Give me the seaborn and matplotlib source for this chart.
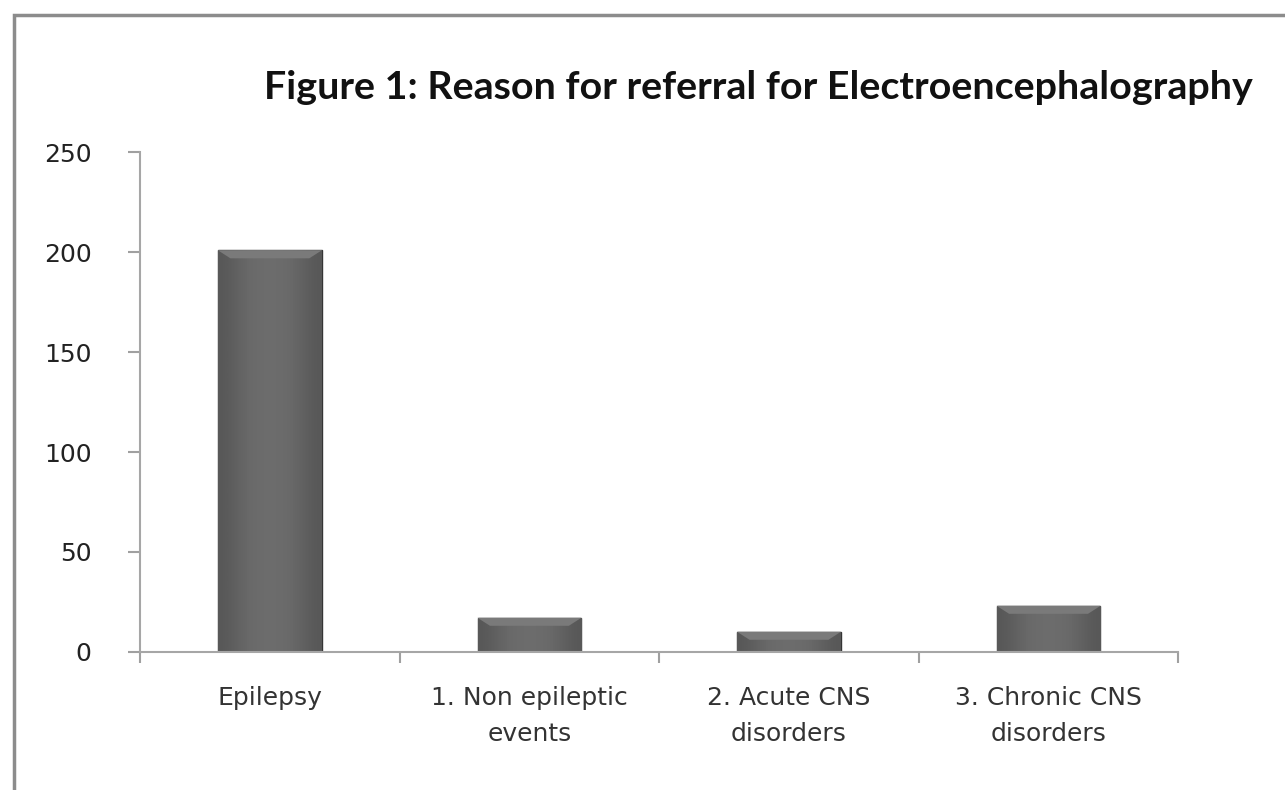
import numpy as np
import pandas as pd
import matplotlib
matplotlib.use("Agg")
import matplotlib.pyplot as plt
import seaborn as sns
from matplotlib.patches import Rectangle, Polygon

# Data
categories = ["Epilepsy", "1. Non epileptic\nevents", "2. Acute CNS\ndisorders", "3. Chronic CNS\ndisorders"]
counts = [201, 17, 10, 23]
y_ticks = [0, 50, 100, 150, 200, 250]

TITLE = "Figure 1: Reason for referral for Electroencephalography"


def main():
    sns.set_style("white")
    plt.rcParams['font.family'] = ['DejaVu Sans']

    df = pd.DataFrame({"category": categories, "count": counts})

    fig = plt.figure(figsize=(12.85, 7.9), dpi=100)
    ax = fig.add_axes([0.109, 0.175, 0.808, 0.632])

    sns.barplot(data=df, x="category", y="count", color="#4c4c4c",
                width=0.4, ax=ax, saturation=1, edgecolor="#353535", linewidth=1)

    # bevel-ish shading on each bar
    grad = np.array([[0.0, 0.55, 0.8, 0.85, 0.8, 0.55, 0.0]])
    for p in ax.patches:
        x0, y0 = p.get_x(), p.get_y()
        w, h = p.get_width(), p.get_height()
        im = ax.imshow(grad, cmap="Greys_r", vmin=-3.0, vmax=8.0, aspect="auto",
                       extent=[x0, x0 + w, y0, y0 + h], zorder=p.get_zorder() + 0.1,
                       interpolation="bicubic")
        im.set_clip_path(p)
        top = min(h * 0.4, 4)
        bevel = Polygon([(x0, y0 + h), (x0 + w, y0 + h),
                         (x0 + w * 0.88, y0 + h - top), (x0 + w * 0.12, y0 + h - top)],
                        closed=True, color="#7a7a7a", lw=0, zorder=p.get_zorder() + 0.2)
        ax.add_patch(bevel)
    ax.set_xlim(-0.5, len(categories) - 0.5)
    ax.set_ylim(0, 250)
    ax.set_yticks(y_ticks)

    # category boundary ticks on x, label ticks at centers
    ax.set_xticks(np.arange(-0.5, len(categories), 1.0), minor=True)
    ax.tick_params(axis="x", which="major", bottom=True, length=0, pad=25,
                   labelsize=18, labelcolor="#333333")
    ax.tick_params(axis="x", which="minor", bottom=True, length=8, color="#a0a0a0",
                   width=1.5, direction="out")
    ax.tick_params(axis="y", left=True, length=9, color="#a0a0a0", width=1.5,
                   direction="out", labelsize=18, pad=26, labelcolor="#222222")
    for lbl in ax.get_xticklabels():
        lbl.set_linespacing(1.6)

    ax.set_xlabel("")
    ax.set_ylabel("")
    for side in ["top", "right"]:
        ax.spines[side].set_visible(False)
    for side in ["left", "bottom"]:
        ax.spines[side].set_color("#a6a6a6")
        ax.spines[side].set_linewidth(1.5)

    fig.text(0.59, 0.889, TITLE, ha="center", va="center", fontsize=28.4,
             fontweight="bold", color="#111111", family=["Lato", "DejaVu Sans"])

    # outer chart frame
    fig.patches.append(Rectangle((14 / 1285, -0.05), 1.1, 1 - 15 / 790 + 0.05,
                                 transform=fig.transFigure, fill=False,
                                 edgecolor="#8c8c8c", linewidth=2.5))

    fig.savefig("out.png", dpi=100)
    plt.close(fig)


if __name__ == "__main__":
    main()
